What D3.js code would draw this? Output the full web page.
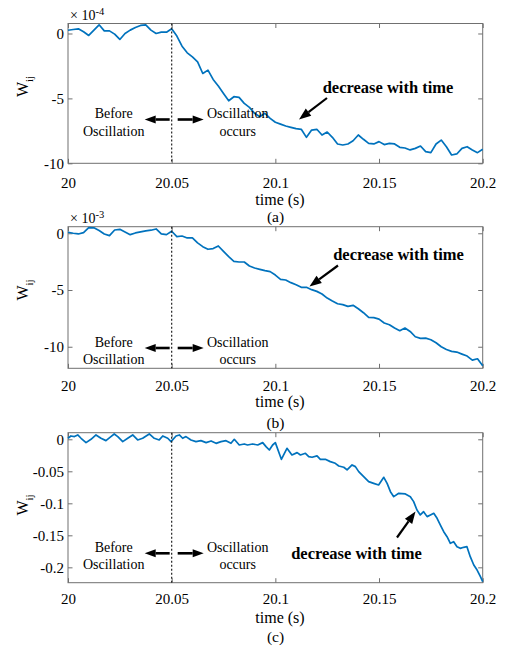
<!DOCTYPE html>
<html>
<head>
<meta charset="utf-8">
<script src="https://cdn.jsdelivr.net/npm/d3@7"></script>
<style>
  body { margin: 0; background: #fff; }
  svg text { font-family: "Liberation Serif", "Tinos", "Times New Roman", "Nimbus Roman", "DejaVu Serif", serif; fill: #000; }
</style>
</head>
<body>
<svg id="chart" width="505" height="652"></svg>
<script>
// sample times for panels (a) and (b)
const timeAB = [20, 20.0025, 20.005, 20.0075, 20.01, 20.0125, 20.015, 20.0175, 20.02, 20.0225,
  20.025, 20.0275, 20.03, 20.0325, 20.035, 20.0375, 20.04, 20.0425, 20.045, 20.0475,
  20.05, 20.0525, 20.055, 20.0575, 20.06, 20.0625, 20.065, 20.0675, 20.07, 20.0725,
  20.075, 20.0775, 20.08, 20.0825, 20.085, 20.0875, 20.09, 20.0925, 20.095, 20.0975,
  20.1, 20.1025, 20.105, 20.1075, 20.11, 20.1125, 20.115, 20.1175, 20.12, 20.1225,
  20.125, 20.1275, 20.13, 20.1325, 20.135, 20.1375, 20.14, 20.1425, 20.145, 20.1475,
  20.15, 20.1525, 20.155, 20.1575, 20.16, 20.1625, 20.165, 20.1675, 20.17, 20.1725,
  20.175, 20.1775, 20.18, 20.1825, 20.185, 20.1875, 20.19, 20.1925, 20.195, 20.1975, 20.2]

// (a) W_ij, units of 1e-4
const wijA = [0.25, 0.31, 0.36, 0.13, -0.15, 0.26, 0.67, 0.20, 0.20, -0.05,
  -0.46, 0.0, 0.26, 0.46, 0.62, 0.67, 0.26, 0.0, 0.10, 0.10,
  0.36, -0.20, -0.98, -1.49, -1.80, -2.18, -3.08, -2.82, -3.54, -4.05,
  -4.62, -5.18, -4.87, -4.92, -5.38, -5.69, -6.15, -6.41, -6.15, -6.54,
  -6.84, -6.98, -7.13, -7.23, -7.33, -7.38, -8.0, -7.44, -7.38, -7.82,
  -7.59, -8.0, -8.51, -8.59, -8.51, -8.26, -7.82, -8.15, -8.46, -8.51,
  -8.33, -8.56, -8.46, -8.51, -8.77, -8.82, -8.97, -8.85, -8.67, -9.10,
  -9.18, -8.51, -8.21, -8.72, -9.36, -9.28, -8.85, -8.72, -8.97, -9.18, -8.92]

// (b) W_ij, units of 1e-3
const wijB = [0.09, 0.0, -0.06, 0.06, 0.5, 0.48, 0.24, -0.06, -0.21, 0.29,
  0.35, 0.12, -0.12, 0.03, 0.12, 0.21, 0.27, 0.38, -0.06, -0.12,
  0.18, -0.29, -0.24, -0.41, -0.41, -0.85, -1.18, -1.41, -1.35, -1.12,
  -1.59, -2.06, -2.47, -2.53, -2.53, -2.88, -3.06, -3.18, -3.29, -3.38,
  -3.68, -4.06, -4.12, -4.35, -4.53, -4.76, -4.76, -4.97, -5.12, -5.35,
  -5.71, -5.97, -6.21, -6.29, -6.44, -6.35, -6.65, -7.0, -7.41, -7.44,
  -7.56, -7.91, -8.06, -8.35, -8.59, -8.35, -8.65, -9.12, -9.26, -9.24,
  -9.38, -9.65, -10.0, -10.24, -10.41, -10.47, -10.65, -10.82, -11.18, -11.06, -11.68]

// (c) sampled at the wiggles
const timeC = [20.0, 20.0014, 20.0031, 20.0047, 20.0063, 20.0087, 20.0111, 20.0135, 20.0159, 20.0183,
  20.0207, 20.0223, 20.024, 20.0264, 20.0288, 20.0312, 20.0336, 20.036, 20.0392, 20.0416,
  20.044, 20.0457, 20.0481, 20.0497, 20.0521, 20.0537, 20.0553, 20.0569, 20.0593, 20.0617,
  20.0641, 20.0666, 20.069, 20.0714, 20.0738, 20.0762, 20.0786, 20.0802, 20.0826, 20.085,
  20.0866, 20.089, 20.0915, 20.0939, 20.0955, 20.0971, 20.0987, 20.1, 20.1029, 20.1056,
  20.108, 20.1105, 20.1121, 20.1145, 20.1161, 20.1177, 20.1201, 20.1217, 20.1241, 20.1265,
  20.1289, 20.1306, 20.133, 20.1346, 20.137, 20.1386, 20.1402, 20.1426, 20.145, 20.1474,
  20.1498, 20.1523, 20.1539, 20.1555, 20.1571, 20.1595, 20.1627, 20.1651, 20.1667, 20.1683,
  20.1699, 20.1715, 20.1732, 20.1748, 20.1764, 20.178, 20.1796, 20.1812, 20.1828, 20.1844,
  20.186, 20.1876, 20.1892, 20.1908, 20.1924, 20.194, 20.1957, 20.1973, 20.1989, 20.2]
const wijC = [0.0016, 0.0052, 0.0042, 0.0068, 0.0016, -0.0052, 0.0, 0.0068, 0.0016, -0.0021,
  0.0042, 0.0083, 0.0042, -0.0036, 0.0016, 0.0068, -0.001, 0.0016, 0.0083, 0.0016,
  -0.001, 0.0052, 0.0016, -0.0036, 0.0052, 0.0068, 0.0016, 0.0042, -0.001, -0.0036,
  -0.0021, -0.0052, -0.0026, -0.0063, -0.0036, -0.0021, -0.0063, 0.0, -0.0089, -0.0073,
  -0.0089, -0.0073, -0.0089, -0.0052, -0.0115, -0.0167, -0.0089, -0.0052, -0.0313, -0.0141,
  -0.0245, -0.0208, -0.0245, -0.0219, -0.0271, -0.0281, -0.026, -0.0313, -0.0313, -0.0349,
  -0.0375, -0.0417, -0.0437, -0.0479, -0.0401, -0.0427, -0.0505, -0.0583, -0.0661, -0.0688,
  -0.0714, -0.0594, -0.0688, -0.0818, -0.0896, -0.0844, -0.0854, -0.0896, -0.0974, -0.1104,
  -0.1182, -0.113, -0.1208, -0.1182, -0.1156, -0.1234, -0.1339, -0.1443, -0.1521, -0.1625,
  -0.1599, -0.1677, -0.1703, -0.1687, -0.1677, -0.1833, -0.1963, -0.2042, -0.2146, -0.2224]

const xTicks = [20, 20.05, 20.1, 20.15, 20.2]
const xTickLabels = ['20', '20.05', '20.1', '20.15', '20.2']
const yTicksAB = [-10, -5, 0]
const yTickLabelsAB = ['-10', '-5', '0']
const yTicksC = [-0.2, -0.15, -0.1, -0.05, 0]
const yTickLabelsC = ['-0.2', '-0.15', '-0.1', '-0.05', '0']
const onset = 20.05

const serif = '"Liberation Serif", "Tinos", "Times New Roman", "Nimbus Roman", "DejaVu Serif", serif'
const left = 68, right = 482.7
const axisColor = '#707070'
const lineColor = '#0072BD'

const panels = [
  {t: timeAB, w: wijA, top: 23.5, bottom: 163.3, yDomain: [-10, 0.77], yTicks: yTicksAB, yLabels: yTickLabelsAB,
    exponent: '-4', xPad: 14, timeY: 205, caption: '(a)', capY: 222, wY: 86.5, noteY: 119.5,
    decText: [388, 92.5], decArrow: [327, 98, 299, 119.5]},
  {t: timeAB, w: wijB, top: 226.7, bottom: 368.3, yDomain: [-11.9, 0.58], yTicks: yTicksAB, yLabels: yTickLabelsAB,
    exponent: '-3', xPad: 12, timeY: 407, caption: '(b)', capY: 428, wY: 290, noteY: 348,
    decText: [398.5, 259.5], decArrow: [338, 265.5, 309.5, 286.5]},
  {t: timeC, w: wijC, top: 432.7, bottom: 582.7, yDomain: [-0.224, 0.0103], yTicks: yTicksC, yLabels: yTickLabelsC,
    exponent: null, xPad: 11, timeY: 623, caption: '(c)', capY: 642, wY: 505, noteY: 553.3,
    decText: [356.5, 558.5], decArrow: [397, 537.5, 415.5, 511.5]}
]

const svg = d3.select('#chart')
const x = d3.scaleLinear().domain([20, 20.2]).range([left, right])

function arrow(g, x1, y1, x2, y2, w, headLen, headW) {
  let a = Math.atan2(y2 - y1, x2 - x1)
  let bx = x2 - headLen * Math.cos(a), by = y2 - headLen * Math.sin(a)
  g.append('line')
    .attr('x1', x1).attr('y1', y1).attr('x2', bx).attr('y2', by)
    .attr('stroke', '#000').attr('stroke-width', w)
  let nx = -Math.sin(a) * headW / 2, ny = Math.cos(a) * headW / 2
  g.append('path')
    .attr('d', `M${x2},${y2}L${bx + nx},${by + ny}L${bx - nx},${by - ny}Z`)
    .attr('fill', '#000')
}

function styleAxis(sel) {
  sel.attr('font-family', serif)
  sel.select('.domain').remove()
  sel.selectAll('.tick line').attr('stroke', axisColor)
  sel.selectAll('.tick text').attr('font-size', 15).attr('fill', '#222')
}

panels.forEach(p => {
  let y = d3.scaleLinear().domain(p.yDomain).range([p.bottom, p.top])
  let g = svg.append('g').attr('font-family', serif)

  g.append('g').attr('transform', `translate(0,${p.bottom})`)
    .call(d3.axisBottom(x).tickValues(xTicks).tickFormat((d, i) => xTickLabels[i]).tickSizeInner(-4.5).tickSizeOuter(0).tickPadding(p.xPad))
    .call(styleAxis)
  g.append('g').attr('transform', `translate(0,${p.top})`)
    .call(d3.axisTop(x).tickValues(xTicks).tickFormat('').tickSizeInner(-4.5).tickSizeOuter(0))
    .call(styleAxis)
  g.append('g').attr('transform', `translate(${left},0)`)
    .call(d3.axisLeft(y).tickValues(p.yTicks).tickFormat((d, i) => p.yLabels[i]).tickSizeInner(-4.5).tickSizeOuter(0).tickPadding(4))
    .call(styleAxis)
  g.append('g').attr('transform', `translate(${right},0)`)
    .call(d3.axisRight(y).tickValues(p.yTicks).tickFormat('').tickSizeInner(-4.5).tickSizeOuter(0))
    .call(styleAxis)

  g.append('rect')
    .attr('x', left).attr('y', p.top)
    .attr('width', right - left).attr('height', p.bottom - p.top)
    .attr('fill', 'none').attr('stroke', axisColor).attr('stroke-width', 1)

  // data line
  let line = d3.line().x(d => x(d[0])).y(d => y(d[1]))
  g.append('path')
    .datum(d3.zip(p.t, p.w))
    .attr('d', line)
    .attr('fill', 'none')
    .attr('stroke', lineColor)
    .attr('stroke-width', 1.7)
    .attr('stroke-linejoin', 'round')

  // onset marker
  g.append('line')
    .attr('x1', x(onset)).attr('x2', x(onset))
    .attr('y1', p.top).attr('y2', p.bottom)
    .attr('stroke', '#222').attr('stroke-width', 1.2)
    .attr('stroke-dasharray', '2,2')

  let xo = x(onset)
  arrow(g, xo - 2, p.noteY, xo - 27, p.noteY, 2.6, 11, 8)
  arrow(g, xo + 6, p.noteY, xo + 32, p.noteY, 2.6, 11, 8)

  let before = g.append('text').attr('text-anchor', 'middle').attr('font-size', 14)
  before.append('tspan').attr('x', xo - 58).attr('y', p.noteY - 1.5).text('Before')
  before.append('tspan').attr('x', xo - 58).attr('y', p.noteY + 16).text('Oscillation')
  let after = g.append('text').attr('text-anchor', 'middle').attr('font-size', 14)
  after.append('tspan').attr('x', xo + 66).attr('y', p.noteY - 1.5).text('Oscillation')
  after.append('tspan').attr('x', xo + 66).attr('y', p.noteY + 16).text('occurs')

  g.append('text')
    .attr('x', p.decText[0]).attr('y', p.decText[1])
    .attr('text-anchor', 'middle')
    .attr('font-size', 16.5).attr('font-weight', 'bold')
    .text('decrease with time')
  let da = p.decArrow
  arrow(g, da[0], da[1], da[2], da[3], 2.2, 12, 9)

  // axis labels
  g.append('text')
    .attr('x', 280).attr('y', p.timeY)
    .attr('text-anchor', 'middle').attr('font-size', 16)
    .text('time (s)')
  g.append('text')
    .attr('x', 275.5).attr('y', p.capY)
    .attr('text-anchor', 'middle').attr('font-size', 15.5)
    .text(p.caption)

  let wl = g.append('text')
    .attr('transform', `translate(28,${p.wY}) rotate(-90)`)
    .attr('text-anchor', 'middle').attr('font-size', 16)
  wl.append('tspan').text('W')
  wl.append('tspan').attr('dy', 5).attr('font-size', 11).text('ij')

  if (p.exponent) {
    let ex = g.append('text')
      .attr('x', 70).attr('y', p.top - 3.5)
      .attr('font-size', 14).attr('fill', '#222')
    ex.append('tspan').text('\u00d7 10')
    ex.append('tspan').attr('dy', -5).attr('font-size', 10.5).text(p.exponent)
  }
})
</script>
</body>
</html>
